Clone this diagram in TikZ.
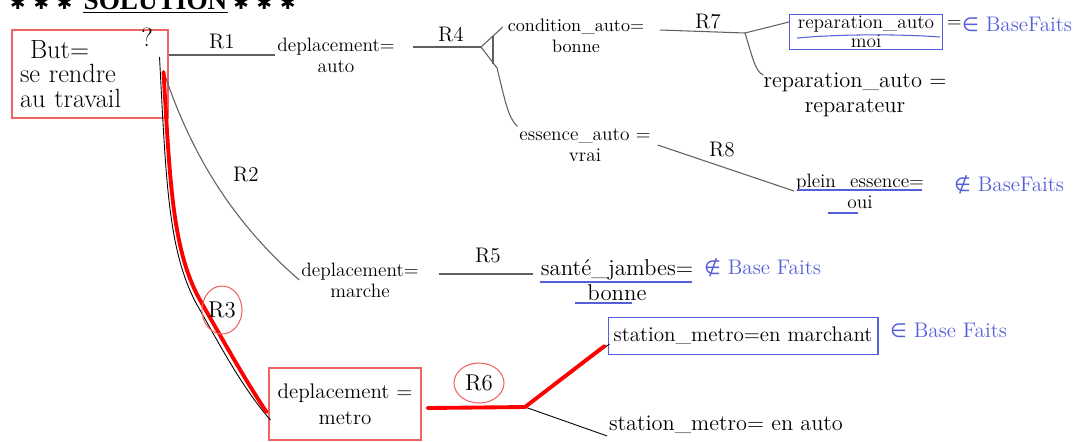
\documentclass[tikz,border=0pt]{standalone}
\usepackage{fontspec}
\newfontfamily\headfont{Liberation Serif}
\newfontfamily\symfont{DejaVu Sans}
\usetikzlibrary{shapes.geometric,calc}
\definecolor{factblue}{RGB}{85,95,215}
\definecolor{boxred}{RGB}{240,100,100}
\definecolor{linegray}{RGB}{95,95,95}
\newcommand{\isin}{{\symfont\fontsize{11}{12}\selectfont ∈}}
\newcommand{\isnotin}{{\symfont\fontsize{11}{12}\selectfont ∉}}
\tikzset{
  hand/.style={font=\fontsize{11}{12}\selectfont, inner sep=1pt, align=center},
  lbl/.style={font=\fontsize{12}{13}\selectfont, inner sep=1pt},
  conn/.style={draw=linegray, line width=0.6pt},
  thinblack/.style={draw=black, line width=0.5pt},
  redbox/.style={draw=boxred, line width=0.6pt},
  bluebox/.style={draw=factblue, line width=0.6pt},
  blueline/.style={draw=factblue, line width=0.6pt},
  redcirc/.style={draw=boxred, line width=0.6pt, ellipse, inner sep=0pt, font=\fontsize{13}{14}\selectfont},
  redpath/.style={draw=red, line width=2.2pt, line cap=round, line join=round},
  facttxt/.style={text=factblue, font=\fontsize{12}{13}\selectfont, inner sep=1pt},
  headtxt/.style={font=\headfont\bfseries\fontsize{15.5}{16}\selectfont, inner sep=0pt},
  startxt/.style={font=\symfont\fontsize{10.5}{12}\selectfont, inner sep=0pt}
}
\begin{document}
\begin{tikzpicture}[x=0.02cm,y=-0.02cm]
\useasboundingbox (0,0) rectangle (1074,441);
\clip (0,0) rectangle (1074,441);

% heading
\node[headtxt, anchor=base] (sol) at (155.5,9) {SOLUTION};
\draw[line width=1.1pt] ([yshift=-2pt]sol.base west) -- ([yshift=-2pt]sol.base east);
\node[startxt, anchor=base east] (starsl) at ([xshift=-6pt]sol.base west) {✱\hspace{4.5pt}✱\hspace{4.5pt}✱};
\node[startxt, anchor=base west] (starsr) at ([xshift=3pt]sol.base east) {✱\hspace{4.5pt}✱\hspace{4.5pt}✱};

% goal
\node[redbox, font=\fontsize{15}{14}\selectfont, align=left, text width=2.8cm,
      inner xsep=0.16cm, minimum height=1.76cm] (goal) at (90,74) {\hspace*{0.2cm}But=\\se rendre\\au travail};
\node[font=\fontsize{15}{16}\selectfont, inner sep=0pt] (qm) at (147,37) {?};

% R1 branch
\node[hand] (auto) at (336,55) {deplacement=\\auto};
\draw[conn] (goal.east |- auto.west) -- (auto.west);
\node[lbl] (r1) at (222,42) {R1};

% R4 fork
\node[hand, font=\fontsize{10.3}{12}\selectfont] (cond) at (576,36) {condition\_auto=\\bonne};
\node[hand] (ess) at (585,145) {essence\_auto =\\vrai};
\coordinate (j4) at (481,47);
\coordinate (f1) at (493,36);
\coordinate (f2) at (493,64);
\draw[conn] ($(auto.east)+(16,-8)$) -- (j4);
\node[lbl] (r4) at (451,35) {R4};
\draw[conn] (j4) -- (f1) -- ($(cond.west)+(-3,-9)$);
\draw[conn] (f1) -- (f2);
\draw[conn] (j4) -- (497,68) .. controls (505,100) and (508,118) .. (ess.north west);

% R7 fork
\node[bluebox, hand, font=\fontsize{11}{11}\selectfont, inner sep=0.5pt,
      minimum width=3.06cm, minimum height=0.7cm] (moi) at (866,32) {reparation\_auto\\moi};
\draw[blueline] (797,38) .. controls (840,34) and (900,34) .. (940,37);
\node[hand, anchor=west] (eq1) at ([xshift=1pt]moi.east |- 0,24) {=};
\node[facttxt, anchor=west] (bf1) at (960,24) {\isin\ BaseFaits};
\node[hand, font=\fontsize{12.8}{14}\selectfont] (repa) at (855,95) {reparation\_auto =\\reparateur};
\coordinate (j7) at (745,33);
\draw[conn] ($(cond.east)+(14,-6)$) -- (j7);
\node[lbl] (r7) at (708,22) {R7};
\draw[conn] (j7) -- ($(moi.west)+(0,-10)$);
\draw[conn] (j7) .. controls (752,55) and (755,72) .. ($(repa.north west)+(2,4)$);

% R8
\node[hand] (plein) at (860,191) {plein\_essence=\\oui};
\draw[conn] ($(ess.east)+(5,0)$) -- (plein.west);
\node[lbl] (r8) at (722,150) {R8};
\node[facttxt, anchor=west] (bf2) at (952,185) {\isnotin\ BaseFaits};

% R2 branch
\node[hand] (marche) at (360,280) {deplacement=\\marche};
\draw[conn] ($(goal.east)+(-4,0)$) .. controls (190,150) and (230,220) .. (marche.west);
\node[lbl] (r2) at (246,175) {R2};
\node[hand, font=\fontsize{13}{14}\selectfont] (sante) at (617,280) {santé\_jambes=\\bonne};
\draw[conn] ($(marche.east)+(18,-6)$) -- ($(sante.west)+(-6,-6)$);
\node[lbl] (r5) at (488,256) {R5};
\node[facttxt, anchor=west] (bf3) at (702,268) {\isnotin\ Base Faits};

% R3 branch (chosen path in red)
\node[redbox, hand, font=\fontsize{12}{15}\selectfont, minimum width=3.04cm,
      minimum height=1.44cm] (metro) at (345,404) {deplacement =\\metro};
\draw[thinblack] ($(goal.east)+(-9,-17)$) .. controls (166,180) and (168,250) .. (196,303)
      .. controls (216,338) and (242,388) .. ($(metro.west)+(2,16)$);
\draw[redpath] ($(goal.east)+(-5,-2)$) .. controls (170,180) and (172,250) .. (200,300)
      .. controls (220,335) and (245,380) .. ($(metro.west)+(-2,8)$);
\node[redcirc, minimum width=0.8cm, minimum height=0.96cm] (r3) at (222,310) {R3};

% R6 branch
\node[bluebox, hand, font=\fontsize{12}{13}\selectfont, minimum width=5.4cm,
      minimum height=0.74cm] (enmarch) at (743,336) {station\_metro=en marchant};
\node[facttxt, anchor=west] (bf4) at (888,330) {\isin\ Base Faits};
\node[hand, font=\fontsize{12.7}{13}\selectfont] (auto2) at (726,425) {station\_metro= en auto};
\node[redcirc, minimum width=1cm, minimum height=0.8cm] (r6) at (479,383) {R6};
\coordinate (j6) at (525,407);
\draw[thinblack] (j6) -- ($(enmarch.west)+(2,8)$);
\draw[thinblack] (j6) -- (auto2.south west);
\draw[redpath] ($(metro.east)+(6,4)$) -- (j6) -- ($(enmarch.west)+(-3,10)$);

% underlines marking facts not in the base
\draw[blueline] (797,190) -- (922,190);
\draw[blueline] (828,213) -- (858,213);
\draw[blueline] (540,282) -- (692,282);
\draw[blueline] (575,303) -- (632,303);
\end{tikzpicture}
\end{document}
